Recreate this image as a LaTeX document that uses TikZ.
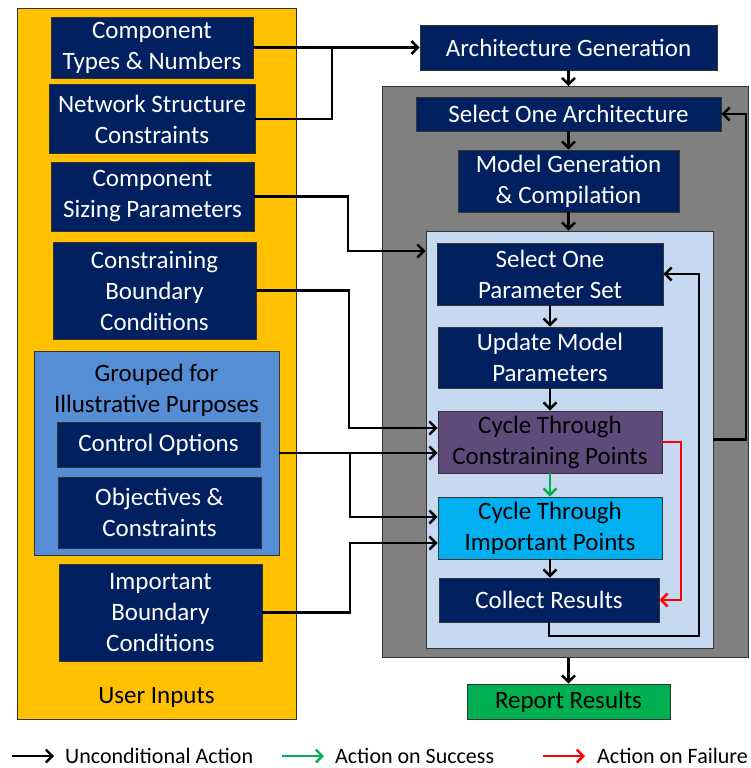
\documentclass[tikz,border=0pt]{standalone}
\usepackage{fontspec}
\setmainfont{Carlito}
\usetikzlibrary{arrows.meta,calc}
\definecolor{navy}{HTML}{002060}
\definecolor{uiyellow}{HTML}{FFC000}
\definecolor{grpblue}{HTML}{558ED5}
\definecolor{lbblue}{HTML}{C6D9F1}
\definecolor{grayb}{HTML}{808080}
\definecolor{purp}{HTML}{604A7B}
\definecolor{cyanb}{HTML}{00B0F0}
\definecolor{greenb}{HTML}{00B050}
\definecolor{redl}{HTML}{FF0000}
\definecolor{greenl}{HTML}{00B050}
\begin{document}
\begin{tikzpicture}[x=1pt,y=-1pt,
  boxbase/.style={draw=black!80,line width=0.9pt,inner sep=0pt,align=center,
    font=\fontsize{25}{31}\selectfont},
  darkbox/.style={boxbase,fill=navy,text=white},
  conn/.style={line width=2.8pt,-{Straight Barb[length=6.5pt,width=13pt,line width=2.4pt]}},
  plain/.style={line width=2.8pt},
  legtext/.style={anchor=west,inner sep=0pt,font=\fontsize{22}{26}\selectfont}]
\useasboundingbox (0,0) rectangle (750,768);
% container boxes
\node[boxbase,fill=uiyellow,minimum width=279pt,minimum height=711pt] (ui) at (156.5,363.5) {};
\node[boxbase,fill=grpblue,minimum width=245pt,minimum height=204pt] (grp) at (156.5,453) {};
\node[boxbase,fill=grayb,minimum width=366pt,minimum height=571pt] (gray) at (565,372) {};
\node[boxbase,fill=lbblue,minimum width=287pt,minimum height=417pt] (lb) at (569.5,439.5) {};
% user input boxes
\node[darkbox,minimum width=202pt,minimum height=61pt] (ctn) at (152,47.5) {Component\\Types \& Numbers};
\node[darkbox,minimum width=206pt,minimum height=69pt] (nsc) at (152,119) {Network Structure\\Constraints};
\node[darkbox,minimum width=203pt,minimum height=69pt] (csp) at (152.5,196.5) {Component\\Sizing Parameters};
\node[darkbox,minimum width=203pt,minimum height=97pt] (cbc) at (154.5,290.5) {Constraining\\Boundary\\Conditions};
\node[boxbase,draw=none,fill=none,text=black] (grpt) at (156.5,390) {Grouped for\\Illustrative Purposes};
\node[darkbox,minimum width=203pt,minimum height=45pt] (co) at (158.5,444.5) {Control Options};
\node[darkbox,minimum width=203pt,minimum height=71pt] (oc) at (159.5,512.5) {Objectives \&\\Constraints};
\node[darkbox,minimum width=203pt,minimum height=97pt] (ibc) at (160.5,612.5) {Important\\Boundary\\Conditions};
\node[boxbase,draw=none,fill=none,text=black] (uit) at (156.5,697) {User Inputs};
% process boxes
\node[darkbox,minimum width=297pt,minimum height=45pt] (ag) at (568.5,47.5) {Architecture Generation};
\node[darkbox,minimum width=305pt,minimum height=34pt] (soa) at (568.5,114) {Select One Architecture};
\node[darkbox,minimum width=221pt,minimum height=62pt] (mg) at (568.5,181) {Model Generation\\\& Compilation};
\node[darkbox,minimum width=226pt,minimum height=62pt] (spc) at (550,274) {Select One\\Parameter Set};
\node[darkbox,minimum width=224pt,minimum height=61pt] (ump) at (550,357.5) {Update Model\\Parameters};
\node[boxbase,fill=purp,text=black,minimum width=224pt,minimum height=62pt] (cp) at (550,442) {Cycle Through\\Constraining Points};
\node[boxbase,fill=cyanb,text=black,minimum width=224pt,minimum height=62pt] (ct) at (550,528) {Cycle Through\\Important Points};
\node[darkbox,minimum width=220pt,minimum height=44pt] (cr) at (549,600) {Collect Results};
\node[boxbase,fill=greenb,text=black,minimum width=203pt,minimum height=35pt] (rr) at (568.5,701.5) {Report Results};
% junction coordinates
\coordinate (j1) at (332,47.5);
\coordinate (k1) at (348,251);
\coordinate (k2) at (349,428);
\coordinate (k3) at (350,453);
\coordinate (k4) at (350,517);
\coordinate (k5) at (350,543);
\coordinate (r2) at (681,600);
\coordinate (c1) at (699,636);
\coordinate (a1) at (746,439.5);
% connectors
\draw[conn] (ctn.east) -- (ctn.east -| ag.west);
\draw[plain] (nsc.east) -| (j1);
\draw[conn] (ag.south) -- (ag.south |- gray.north);
\draw[conn] (soa.south) -- (mg.north);
\draw[conn] (mg.south) -- (mg.south |- lb.north);
\draw[conn] (csp.east) -| (k1) -- (k1 -| lb.west);
\draw[conn] (cbc.east) -| (k2) -- (k2 -| cp.west);
\draw[conn] (grp.east) -- (grp.east -| cp.west);
\draw[conn] (k3) -- (k4) -- (k4 -| ct.west);
\draw[conn] (ibc.east) -| (k5) -- (k5 -| ct.west);
\draw[conn] (spc.south) -- (ump.north);
\draw[conn] (ump.south) -- (cp.north);
\draw[conn,draw=greenl] (cp.south) -- (ct.north);
\draw[conn] (ct.south) -- (ct.south |- cr.north);
\draw[conn,draw=redl] (cp.east) -| (r2) -- (cr.east);
\draw[conn] (cr.south) |- (c1) |- (spc.east);
\draw[conn] (lb.east) -- (a1) |- (soa.east);
\draw[conn] (rr.north |- gray.south) -- (rr.north);
% legend
\coordinate (la1) at (12,756);
\coordinate (la2) at (54,756);
\coordinate (lb1) at (282,756);
\coordinate (lb2) at (324,756);
\coordinate (lc1) at (543,756);
\coordinate (lc2) at (585,756);
\draw[conn] (la1) -- (la2);
\draw[conn,draw=greenl] (lb1) -- (lb2);
\draw[conn,draw=redl] (lc1) -- (lc2);
\node[legtext] (lt1) at (65,756) {Unconditional Action};
\node[legtext] (lt2) at (335,756) {Action on Success};
\node[legtext] (lt3) at (597,756) {Action on Failure};
\end{tikzpicture}
\end{document}
